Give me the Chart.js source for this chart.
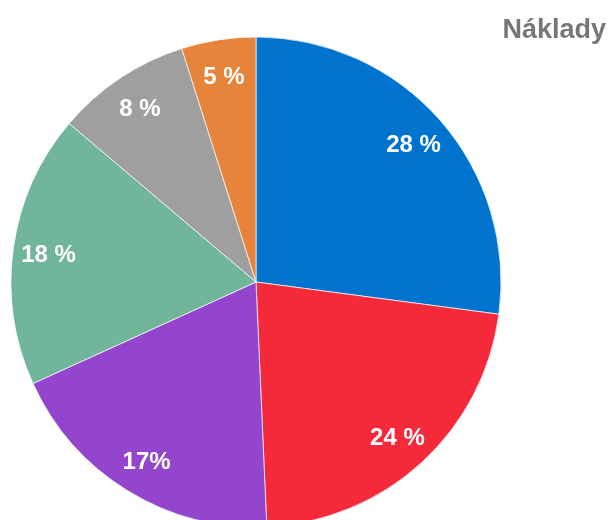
<!DOCTYPE html>
<html>
<head>
<meta charset="utf-8">
<script src="https://cdn.jsdelivr.net/npm/chart.js@4"></script>
<style>
  html, body { margin: 0; padding: 0; background: #fff; }
  #wrap { position: relative; width: 609px; height: 520px; }
</style>
</head>
<body>
<div id="wrap"><canvas id="costChart"></canvas></div>
<script>
// Chart data (shares, labels as printed)
const titleText = 'Náklady';
const categories = ['A', 'B', 'C', 'D', 'E', 'F'];
const shares = [27.1, 22.2, 18.9, 18.0, 8.9, 4.9];
const shareLabels = ['28 %', '24 %', '17%', '18 %', '8 %', '5 %'];
const sliceColors = ['#0073cf', '#f42a3a', '#9445cd', '#71b59a', '#9f9f9f', '#e5843a'];

// draws percentage text inside each slice + the title in the corner
const pieLabels = {
    id: 'pieLabels',
    afterDatasetsDraw(chart) {
        const ctx = chart.ctx;
        const meta = chart.getDatasetMeta(0);
        ctx.save();
        ctx.fillStyle = '#ffffff';
        ctx.font = 'bold 24px "Liberation Sans", Arial, sans-serif';
        ctx.textAlign = 'center';
        ctx.textBaseline = 'alphabetic';
        meta.data.forEach((arc, i) => {
            const p = arc.getProps(['x', 'y', 'startAngle', 'endAngle', 'outerRadius'], true);
            const mid = (p.startAngle + p.endAngle) / 2;
            const r = p.outerRadius * 0.855;
            // shift by half the cap height so the digits sit centred on the point
            ctx.fillText(shareLabels[i], p.x + Math.cos(mid) * r, p.y + Math.sin(mid) * r + 8.5);
        });
        ctx.fillStyle = '#777777';
        ctx.font = 'bold 27px "Liberation Sans", Arial, sans-serif';
        ctx.textAlign = 'right';
        ctx.fillText(titleText, 606, 38);
        ctx.restore();
    }
};

const costChart = new Chart(document.getElementById('costChart'), {
    type: 'pie',
    data: {
        labels: categories,
        datasets: [{
            data: shares,
            backgroundColor: sliceColors,
            borderColor: '#ffffff',
            borderWidth: 0.7,
            clip: false
        }]
    },
    options: {
        responsive: true,
        maintainAspectRatio: false,
        animation: false,
        radius: 245,
        layout: {
            padding: { left: 0, right: 97, top: 44, bottom: 0 }
        },
        plugins: {
            legend: { display: false },
            tooltip: { enabled: false },
            title: { display: false }
        }
    },
    plugins: [pieLabels]
});
</script>
</body>
</html>
